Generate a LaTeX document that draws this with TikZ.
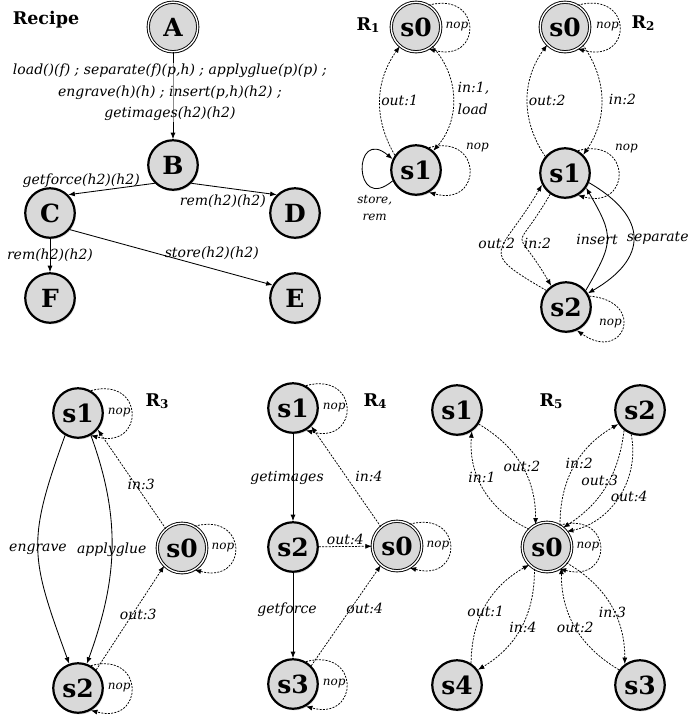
\documentclass[tikz,border=0pt]{standalone}
\usepackage{fontspec}
\setmainfont{DejaVu Serif}
\usetikzlibrary{arrows.meta,shadows}
\newcommand\Rsub[1]{R\raisebox{-1.5pt}{\fontsize{12}{12}\selectfont #1}}
\begin{document}
\begin{tikzpicture}[x=1pt,y=1pt,
 st/.style={circle, draw=black, line width=2.2pt, fill=black!15, minimum size=49.5pt, inner sep=0pt,
   font=\fontsize{25}{25}\selectfont\bfseries,
   drop shadow={shadow xshift=1.2pt, shadow yshift=-1.6pt, opacity=0.3}},
 ini/.style={st, line width=0.9pt, double=white, double distance=1.4pt},
 lbl/.style={font=\fontsize{14}{21.5}\selectfont\itshape, inner sep=1pt},
 slbl/.style={font=\fontsize{12}{16.5}\selectfont\itshape, inner sep=0.5pt},
 ttl/.style={font=\fontsize{17.5}{17.5}\selectfont\bfseries, inner sep=0pt},
 ed/.style={line width=0.85pt, -{Latex[length=6.5pt,width=5pt]}},
 dd/.style={ed, line width=0.75pt, dash pattern=on 2pt off 1.3pt},
]
\useasboundingbox (0,0) rectangle (691,-721);

% ---------------- Recipe ----------------
\node[ttl] (rec) at (46,-20) {Recipe};
\node[ini] (A) at (173,-27) {A};
\node[st] (B) at (173,-165) {B};
\node[st] (C) at (50,-213) {C};
\node[st] (D) at (295,-213) {D};
\node[st] (F) at (50,-298) {F};
\node[st] (E) at (295,-298) {E};
\draw[ed] (A) -- node[lbl, align=center, xshift=-3pt, yshift=3pt, fill=white, fill opacity=0.55, text opacity=1]
  {load()(f) ; separate(f)(p,h) ; applyglue(p)(p) ;\\ engrave(h)(h) ; insert(p,h)(h2) ;\\ getimages(h2)(h2)} (B);
\draw[ed] (B.225) -- node[lbl, pos=0.85, above=4pt] {getforce(h2)(h2)} (C.45);
\draw[ed] (B.-45) -- node[lbl, pos=0.37, below=6pt] {rem(h2)(h2)} (D.135);
\draw[ed] (C) -- node[lbl] {rem(h2)(h2)} (F);
\draw[ed] (C.-40) -- node[lbl, pos=0.7, above=7pt] {store(h2)(h2)} (E.150);

% ---------------- R1 ----------------
\node[ttl] (t1) at (368,-25) {\Rsub{1}};
\node[ini] (a0) at (416,-27) {s0};
\node[st] (a1) at (416,-170) {s1};
\draw[dd] (a1.145) to[bend left=33] node[lbl, right] {out:1} (a0.230);
\draw[dd] (a0.-50) to[bend left=42] node[lbl, right=3pt, align=left] {in:1,\\load} (a1.48);
\draw[dd] (a0.60) .. controls +(15:56) and +(-15:56) .. (a0.-60) node[slbl, pos=.5, anchor=east] {nop};
\draw[dd] (a1.60) .. controls +(15:56) and +(-15:56) .. (a1.-60) node[slbl, pos=.5, xshift=8pt, yshift=22pt] {nop};
\draw[ed] (a1.205) .. controls +(220:52) and +(140:52) .. (a1.155) node[slbl, pos=.5, align=center, xshift=12pt, yshift=-38pt] {store,\\rem};

% ---------------- R2 ----------------
\node[ttl] (t2) at (643,-23) {\Rsub{2}};
\node[ini] (b0) at (565,-27) {s0};
\node[st] (b1) at (565,-173) {s1};
\node[st] (b2) at (566,-307) {s2};
\draw[dd] (b1.140) to[bend left=35] node[lbl, right] {out:2} (b0.225);
\draw[dd] (b0.-45) to[bend left=35] node[lbl, right=6pt] {in:2} (b1.45);
\draw[dd] (b0.60) .. controls +(15:58) and +(-15:58) .. (b0.-60) node[slbl, pos=.5, anchor=east] {nop};
\draw[dd] (b1.60) .. controls +(15:56) and +(-15:56) .. (b1.-60) node[slbl, pos=.5, xshift=8pt, yshift=24pt] {nop};
\draw[dd] (b2.25) .. controls +(-5:58) and +(-35:58) .. (b2.-65) node[slbl, pos=.5, anchor=east, yshift=4pt] {nop};
\draw[dd] (b2.140) to[out=150, in=240, looseness=2.0] node[lbl, pos=.5, xshift=-5pt, yshift=6pt] {out:2} (b1.207);
\draw[dd] (b1.235) to[out=240, in=120, looseness=2.1] node[lbl, pos=.5, right=0pt, yshift=-3pt] {in:2} (b2.125);
\draw[ed] (b2.40) to[out=60, in=-60, looseness=1.4] node[lbl, pos=.5, xshift=-10pt] {insert} (b1.-35);
\draw[ed] (b1.-22) to[out=-30, in=30, looseness=1.6] node[lbl, pos=.5, anchor=west, xshift=-8pt] {separate} (b2.32);

% ---------------- R3 ----------------
\node[ttl] (t3) at (157,-401) {\Rsub{3}};
\node[st] (c1) at (78,-413) {s1};
\node[st] (c2) at (78,-688) {s2};
\node[ini] (c0) at (182,-548) {s0};
\draw[ed] (c1.240) to[out=250, in=110, looseness=1.27] node[lbl, pos=.5] {engrave} (c2.110);
\draw[ed] (c1.-60) to[out=-70, in=70, looseness=1.0] node[lbl, pos=.5] {applyglue} (c2.70);
\draw[dd] (c0.130) -- node[lbl, pos=.45, xshift=6pt] {in:3} (c1.-40);
\draw[dd] (c2.45) -- node[lbl, pos=.5, xshift=8pt, yshift=3pt] {out:3} (c0.-135);
\draw[dd] (c1.60) .. controls +(15:56) and +(-15:56) .. (c1.-60) node[slbl, pos=.5, anchor=east] {nop};
\draw[dd] (c0.60) .. controls +(15:56) and +(-15:56) .. (c0.-60) node[slbl, pos=.5, anchor=east] {nop};
\draw[dd] (c2.60) .. controls +(15:56) and +(-15:56) .. (c2.-60) node[slbl, pos=.5, anchor=east] {nop};

% ---------------- R4 ----------------
\node[ttl] (t4) at (375,-401) {\Rsub{4}};
\node[st] (d1) at (293,-408) {s1};
\node[st] (d2) at (293,-547) {s2};
\node[st] (d3) at (293,-684) {s3};
\node[ini] (d0) at (397,-546) {s0};
\draw[ed] (d1) -- node[lbl, xshift=-6pt] {getimages} (d2);
\draw[ed] (d2) -- node[lbl, xshift=-6pt, yshift=6pt] {getforce} (d3);
\draw[dd] (d2) -- node[lbl, above=0pt] {out:4} (d0);
\draw[dd] (d0.130) -- node[lbl, pos=.5, right=8pt] {in:4} (d1.-45);
\draw[dd] (d3.45) -- node[lbl, pos=.5, anchor=west, xshift=-1pt, yshift=7pt] {out:4} (d0.-130);
\draw[dd] (d1.60) .. controls +(15:56) and +(-15:56) .. (d1.-60) node[slbl, pos=.5, anchor=east] {nop};
\draw[dd] (d0.60) .. controls +(15:56) and +(-15:56) .. (d0.-60) node[slbl, pos=.5, anchor=east] {nop};
\draw[dd] (d3.60) .. controls +(15:56) and +(-15:56) .. (d3.-60) node[slbl, pos=.5, anchor=east] {nop};

% ---------------- R5 ----------------
\node[ttl] (t5) at (551,-401) {\Rsub{5}};
\node[st] (e1) at (457,-410) {s1};
\node[st] (e2) at (640,-410) {s2};
\node[ini] (e0) at (547,-547) {s0};
\node[st] (e4) at (457,-685) {s4};
\node[st] (e3) at (640,-685) {s3};
\draw[dd] (e0.135) to[bend left=35] node[lbl, pos=.5, xshift=-2pt, yshift=12pt] {in:1} (e1.-55);
\draw[dd] (e1.-33) to[bend left=30] node[lbl, pos=.5] {out:2} (e0.117);
\draw[dd] (e0.59) to[bend left=30] node[lbl, pos=.5, xshift=5pt, yshift=3pt] {in:2} (e2.213);
\draw[dd] (e2.232) to[bend left=25] node[lbl, pos=.5, xshift=-6pt, yshift=6pt] {out:3} (e0.50);
\draw[dd] (e2.250) to[bend left=45] node[lbl, pos=.5, xshift=10pt] {out:4} (e0.38);
\draw[dd] (e4.57) to[bend left=30] node[lbl, pos=.5, yshift=-6pt] {out:1} (e0.225);
\draw[dd] (e0.240) to[bend left=30] node[lbl, pos=.5, xshift=2pt] {in:4} (e4.36);
\draw[dd] (e3.144) to[bend left=30] node[lbl, pos=.5] {out:2} (e0.-55);
\draw[dd] (e0.-39) to[bend left=30] node[lbl, pos=.5, xshift=2pt, yshift=-7pt] {in:3} (e3.126);
\draw[dd] (e0.60) .. controls +(15:56) and +(-15:56) .. (e0.-60) node[slbl, pos=.5, anchor=east] {nop};
\end{tikzpicture}
\end{document}
